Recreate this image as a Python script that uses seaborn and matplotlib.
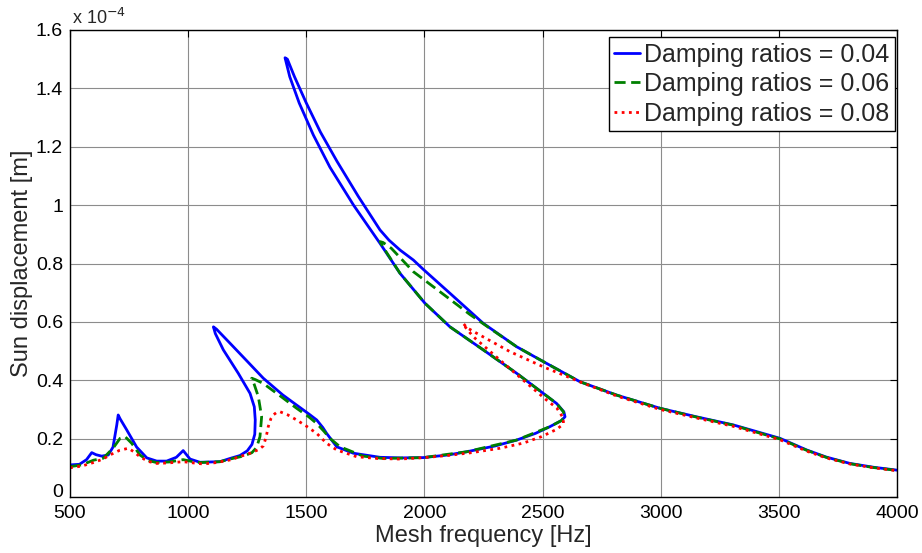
import numpy as np
import pandas as pd
import matplotlib
matplotlib.use("Agg")
import matplotlib.pyplot as plt
import seaborn as sns

# ---------------- data (displacement in units of 1e-4 m) ----------------
freq_004 = [500, 540, 570, 592, 610, 634, 662, 682, 698, 704, 712, 740, 782, 825, 867, 909, 950, 979,
            1008, 1050, 1135, 1177, 1219, 1250, 1270, 1282, 1284, 1280, 1262, 1212, 1149, 1115, 1107,
            1120, 1177, 1250, 1318, 1400, 1459, 1510, 1544, 1570, 1586, 1629, 1699, 1812, 1900, 1995,
            2100, 2179, 2300, 2390, 2470, 2531, 2580, 2595, 2590, 2560, 2503, 2390, 2249, 2108, 2002,
            1897, 1812, 1700, 1600, 1530, 1470, 1430, 1410, 1420, 1450, 1500, 1560, 1630, 1720, 1812,
            1850, 1897, 1953, 1995, 2108, 2249, 2390, 2503, 2658, 2814, 2997, 3150, 3307, 3406, 3505,
            3618, 3700, 3801, 3900, 4000]
disp_004 = [0.110, 0.112, 0.128, 0.152, 0.145, 0.140, 0.144, 0.171, 0.247, 0.281, 0.268, 0.230, 0.171,
            0.134, 0.123, 0.123, 0.136, 0.159, 0.130, 0.119, 0.121, 0.132, 0.142, 0.158, 0.180, 0.215,
            0.264, 0.309, 0.355, 0.424, 0.504, 0.560, 0.583, 0.575, 0.527, 0.465, 0.407, 0.350, 0.315,
            0.285, 0.264, 0.238, 0.218, 0.172, 0.150, 0.136, 0.134, 0.135, 0.144, 0.155, 0.175, 0.195,
            0.218, 0.241, 0.262, 0.275, 0.292, 0.320, 0.355, 0.424, 0.504, 0.583, 0.664, 0.766, 0.869,
            1.000, 1.130, 1.240, 1.350, 1.440, 1.505, 1.500, 1.440, 1.350, 1.250, 1.150, 1.030, 0.915,
            0.880, 0.846, 0.812, 0.780, 0.698, 0.595, 0.515, 0.464, 0.395, 0.349, 0.304, 0.275, 0.247,
            0.224, 0.201, 0.161, 0.137, 0.115, 0.102, 0.092]

freq_006 = [500, 550, 599, 641, 683, 712, 733, 761, 796, 830, 867, 920, 979, 1020, 1050, 1135, 1177,
            1233, 1270, 1290, 1304, 1311, 1297, 1280, 1269, 1285, 1318, 1400, 1459, 1510, 1544, 1575,
            1600, 1643, 1741, 1826, 1995, 2179, 2390, 2531, 2580, 2593, 2588, 2560, 2503, 2390, 2249,
            2108, 2002, 1897, 1830, 1812, 1825, 1860, 1953, 2094, 2193, 2300, 2390, 2503, 2658, 2814,
            2997, 3150, 3307, 3406, 3505, 3618, 3700, 3801, 3900, 4000]
disp_006 = [0.104, 0.110, 0.126, 0.133, 0.168, 0.201, 0.207, 0.184, 0.144, 0.125, 0.118, 0.120, 0.128,
            0.121, 0.118, 0.121, 0.130, 0.140, 0.152, 0.170, 0.207, 0.275, 0.344, 0.385, 0.407, 0.402,
            0.389, 0.340, 0.304, 0.275, 0.252, 0.225, 0.201, 0.172, 0.140, 0.132, 0.135, 0.155, 0.195,
            0.241, 0.262, 0.275, 0.292, 0.320, 0.355, 0.424, 0.504, 0.583, 0.664, 0.766, 0.850, 0.875,
            0.872, 0.852, 0.772, 0.686, 0.625, 0.565, 0.515, 0.464, 0.395, 0.349, 0.304, 0.274, 0.246,
            0.222, 0.199, 0.160, 0.136, 0.114, 0.101, 0.091]

freq_008 = [500, 550, 599, 640, 669, 710, 747, 770, 796, 830, 867, 920, 979, 1020, 1064, 1120, 1177,
            1262, 1300, 1318, 1330, 1339, 1350, 1360, 1375, 1389, 1420, 1459, 1500, 1544, 1586, 1629,
            1713, 1800, 1897, 2000, 2108, 2200, 2320, 2420, 2496, 2560, 2588, 2588, 2560, 2517, 2433,
            2320, 2207, 2175, 2164, 2180, 2221, 2362, 2503, 2672, 2814, 2997, 3150, 3307, 3406, 3505,
            3618, 3700, 3801, 3900, 4000]
disp_008 = [0.100, 0.106, 0.118, 0.130, 0.144, 0.160, 0.167, 0.155, 0.138, 0.122, 0.115, 0.117, 0.121,
            0.117, 0.113, 0.118, 0.127, 0.150, 0.163, 0.175, 0.205, 0.241, 0.268, 0.281, 0.290, 0.292,
            0.282, 0.264, 0.243, 0.218, 0.184, 0.161, 0.138, 0.132, 0.130, 0.135, 0.143, 0.152, 0.167,
            0.185, 0.207, 0.232, 0.250, 0.270, 0.305, 0.332, 0.390, 0.469, 0.549, 0.580, 0.595, 0.580,
            0.561, 0.498, 0.446, 0.390, 0.346, 0.300, 0.271, 0.242, 0.219, 0.196, 0.157, 0.134, 0.113,
            0.100, 0.090]

labels = ["Damping ratios = 0.04", "Damping ratios = 0.06", "Damping ratios = 0.08"]
x_ticks = [500, 1000, 1500, 2000, 2500, 3000, 3500, 4000]
y_ticks = [0, 0.2, 0.4, 0.6, 0.8, 1.0, 1.2, 1.4, 1.6]
y_tick_labels = ["0", "0.2", "0.4", "0.6", "0.8", "1", "1.2", "1.4", "1.6"]

# ---------------- styling ----------------
sns.set_style("white")
plt.rcParams["font.family"] = ["Liberation Sans", "DejaVu Sans"]

fig = plt.figure(figsize=(9.22, 5.53), dpi=100)
ax = fig.add_axes([70 / 922, 1 - 497 / 553, (897 - 70) / 922, (497 - 30) / 553])

series = [
    (freq_004, disp_004, "#0000ff", "-"),
    (freq_006, disp_006, "#008000", (0, (4.0, 2.0))),
    (freq_008, disp_008, "#ff0000", (0, (1.0, 1.6))),
]
for (fx, fy, col, ls), lab in zip(series, labels):
    df = pd.DataFrame({"freq": fx, "disp": fy})
    sns.lineplot(data=df, x="freq", y="disp", sort=False, estimator=None, color=col,
                 linestyle=ls, linewidth=2.0, label=lab, ax=ax)

ax.set_xlim(500, 4000)
ax.set_ylim(0, 1.6)
ax.set_xticks(x_ticks)
ax.set_xticklabels([str(t) for t in x_ticks])
ax.set_yticks(y_ticks)
ax.set_yticklabels(y_tick_labels)
ax.grid(True, color="#8c8c8c", linewidth=0.8)
ax.set_axisbelow(True)
for sp in ax.spines.values():
    sp.set_visible(True)
    sp.set_color("black")
    sp.set_linewidth(1.0)
ax.tick_params(direction="in", top=True, right=True, length=5, width=0.8,
               labelsize=14, colors="black")
ax.tick_params(axis="x", pad=6)
ax.tick_params(axis="y", pad=5)
# MATLAB-style: the "0" y label sits just above its tick
ax.get_yticklabels()[0].set_verticalalignment("baseline")
ax.set_xlabel("Mesh frequency [Hz]", fontsize=17, labelpad=2)
ax.set_ylabel("Sun displacement [m]", fontsize=17, labelpad=2)
ax.text(0.002, 1.004, r"x 10$^{-4}$", transform=ax.transAxes, fontsize=13,
        ha="left", va="bottom")

leg = ax.legend(loc="upper right", bbox_to_anchor=(0.9975, 0.985), borderaxespad=0,
                fontsize=18, handlelength=1.05, handletextpad=0.15, labelspacing=0.22,
                borderpad=0.22, frameon=True, fancybox=False, framealpha=1)
leg.get_frame().set_edgecolor("black")
leg.get_frame().set_linewidth(1.0)

fig.savefig("out.png", dpi=100)
